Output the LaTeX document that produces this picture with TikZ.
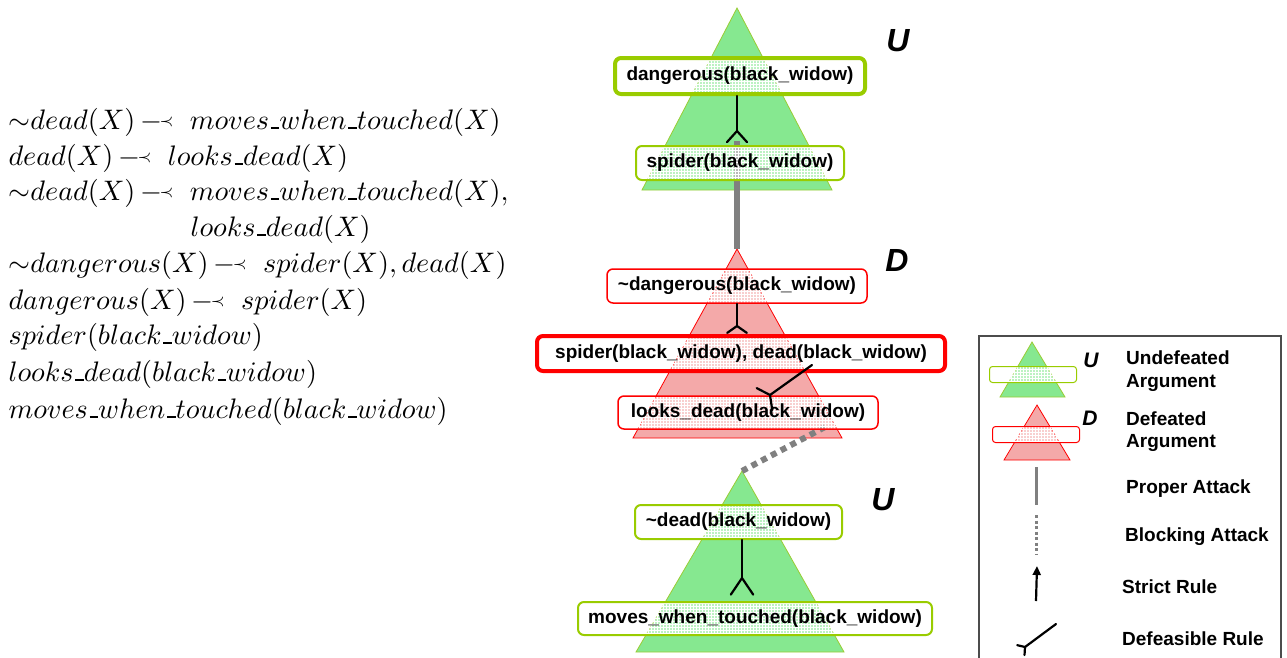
\documentclass[tikz,border=0pt]{standalone}
\usepackage{fontspec}
\setsansfont{Liberation Sans}
\usetikzlibrary{calc,patterns,arrows.meta}
\definecolor{trigreen}{HTML}{86E890}
\definecolor{triedge}{HTML}{99CC33}
\definecolor{boxgreen}{HTML}{99CC00}
\definecolor{trired}{HTML}{F4A9A9}
\definecolor{atkgray}{HTML}{808080}
\newcommand{\dfs}{\mathord{\mkern3mu -\mkern-2mu\vcenter{\hbox{$\scriptscriptstyle\prec$}}\mkern10mu}}
\newcommand{\negsim}{\mathord{\sim}}
\newcommand{\us}{\mbox{\kern.06em\vbox{\hrule height.6pt width.3em}}}
\newcommand{\defrule}[4]{%
  \draw[rulel] (#1) -- (#2);
  \draw[rulel] ($(#2)!#4!#3:(#1)$) -- (#2) -- ($(#2)!#4!-#3:(#1)$);
}
\tikzset{
  argbox/.style={rounded corners=6pt,
    preaction={fill=white, fill opacity=0.45},
    preaction={fill opacity=0.9, pattern=grid, pattern color=white},
    font=\sffamily\bfseries\fontsize{19}{21}\selectfont, inner sep=0pt, text=black},
  gtri/.style={fill=trigreen, draw=triedge, line width=0.8pt},
  rtri/.style={fill=trired, draw=red, line width=0.8pt},
  gbox/.style={argbox, draw=boxgreen, line width=2pt},
  gboxthick/.style={argbox, draw=boxgreen, line width=4pt},
  rbox/.style={argbox, draw=red, line width=1.5pt},
  rboxthick/.style={argbox, draw=red, line width=4pt},
  lgbox/.style={rounded corners=3pt,
    preaction={fill=white, fill opacity=0.45},
    preaction={fill opacity=0.9, pattern=grid, pattern color=white}, inner sep=0pt},
  rulel/.style={black, line width=2.2pt, line cap=round},
  proper/.style={atkgray, line width=6pt},
  blocking/.style={atkgray, line width=6pt, dash pattern=on 6pt off 5pt},
  bigletter/.style={font=\sffamily\bfseries\itshape\fontsize{32}{34}\selectfont},
  smallletter/.style={font=\sffamily\bfseries\itshape\fontsize{21}{23}\selectfont},
  legtext/.style={font=\sffamily\bfseries\fontsize{19}{22.5}\selectfont, align=left, anchor=west, inner sep=0pt},
  mathline/.style={anchor=base west, inner sep=0pt, scale=2.82, transform shape},
}
\begin{document}
\begin{tikzpicture}[x=1pt,y=-1pt]
\useasboundingbox (0,0) rectangle (1287,657);

% ---- left program ----
\node[mathline] (l1) at (8,129) {$\negsim dead(X) \dfs moves\us when\us touched(X)$};
\node[mathline] (l2) at (8,165) {$dead(X) \dfs looks\us dead(X)$};
\node[mathline] (l3) at (8,200) {$\negsim dead(X) \dfs moves\us when\us touched(X),$};
\node[mathline] (l4) at (190,236) {$looks\us dead(X)$};
\node[mathline] (l5) at (8,272) {$\negsim dangerous(X) \dfs spider(X), dead(X)$};
\node[mathline] (l6) at (8,309) {$dangerous(X) \dfs spider(X)$};
\node[mathline] (l7) at (8,344) {$spider(black\us widow)$};
\node[mathline] (l8) at (8,381) {$looks\us dead(black\us widow)$};
\node[mathline] (l9) at (8,418) {$moves\us when\us touched(black\us widow)$};

% ---- triangles ----
\draw[gtri] (737,8) coordinate (t1top) -- (642,190) -- (832,190) -- cycle;
\draw[rtri] (737,249) coordinate (t2top) -- (633,438) -- (842,438) -- cycle;
\draw[gtri] (742,471) coordinate (t3top) -- (636,652) -- (844,652) -- cycle;

% ---- attacks ----
\coordinate (pa1) at (737,141);
\draw[proper] (pa1) -- (t2top);
\coordinate (ba1) at (825,427);
\draw[blocking] (ba1) -- (t3top);

% ---- argument boxes ----
\node[gboxthick, minimum width=250pt, minimum height=36pt] (dang) at (740,76) {dangerous(black\_widow)};
\node[gbox, minimum width=208pt, minimum height=34pt] (spid) at (740,163) {spider(black\_widow)};
\node[rbox, minimum width=260pt, minimum height=34pt] (ndang) at (737,286) {\textasciitilde dangerous(black\_widow)};
\node[rboxthick, minimum width=408pt, minimum height=35pt] (spdead) at (741,353.5) {spider(black\_widow), dead(black\_widow)};
\node[rbox, minimum width=260pt, minimum height=33pt] (looks) at (748,412.5) {looks\_dead(black\_widow)};
\node[gbox, minimum width=207pt, minimum height=34pt] (ndead) at (738.5,522) {\textasciitilde dead(black\_widow)};
\node[gbox, minimum width=354pt, minimum height=33pt] (moves) at (755,618.5) {moves\_when\_touched(black\_widow)};

% ---- defeasible rules ----
\coordinate (r1a) at ($(dang.south)+(-3,0)$);
\coordinate (r1b) at (737,131);
\defrule{r1a}{r1b}{138}{15pt}
\coordinate (r2a) at (737,304);
\coordinate (r2b) at (737,326);
\defrule{r2a}{r2b}{125}{12pt}
\coordinate (r3a) at (812,365);
\coordinate (r3b) at (770,395);
\defrule{r3a}{r3b}{117}{15pt}
\coordinate (r4a) at (742,540);
\coordinate (r4b) at (742,578);
\defrule{r4a}{r4b}{146}{20pt}

% ---- status letters ----
\node[bigletter] (u1) at (898,41) {U};
\node[bigletter] (d1) at (897,260) {D};
\node[bigletter] (u2) at (883,500) {U};

% ---- legend ----
\draw[gray!60!black, line width=1.5pt] (979,660) -- (979,336) -- (1281,336) -- (1281,660);
\draw[gtri] (1032,342) coordinate (lt1) -- (1000,397) -- (1065,397) -- cycle;
\node[lgbox, draw=boxgreen, line width=1pt, minimum width=87pt, minimum height=16pt] (lb1) at (1033,374.5) {};
\draw[rtri] (1037,405) coordinate (lt2) -- (1004,460) -- (1070,460) -- cycle;
\node[lgbox, draw=red, line width=1pt, minimum width=87pt, minimum height=16pt] (lb2) at (1036,434.5) {};
\node[smallletter] (lu) at (1091,360) {U};
\node[smallletter] (ld) at (1090,418) {D};
\node[legtext] (lt_u) at (1126,371) {Undefeated\\Argument};
\node[legtext] (lt_d) at (1126,431.5) {Defeated\\Argument};
\node[legtext] (lt_p) at (1126,489) {Proper Attack};
\node[legtext] (lt_b) at (1125,537) {Blocking Attack};
\node[legtext] (lt_s) at (1122,587) {Strict Rule};
\node[legtext] (lt_f) at (1122,639) {Defeasible Rule};
\coordinate (lp1) at (1036,467); \coordinate (lp2) at (1036,505);
\draw[atkgray, line width=3pt] (lp1) -- (lp2);
\coordinate (lbk1) at (1036,515); \coordinate (lbk2) at (1036,555);
\draw[atkgray, line width=3pt, dash pattern=on 3pt off 2.5pt] (lbk1) -- (lbk2);
\coordinate (ls1) at (1036,601); \coordinate (ls2) at (1037,566);
\draw[black, line width=2.2pt, -{Triangle[length=9pt,width=8pt]}] (ls1) -- (ls2);
\coordinate (ld1) at (1056,624); \coordinate (ld2) at (1025,647);
\defrule{ld1}{ld2}{130}{8pt}
\end{tikzpicture}
\end{document}
